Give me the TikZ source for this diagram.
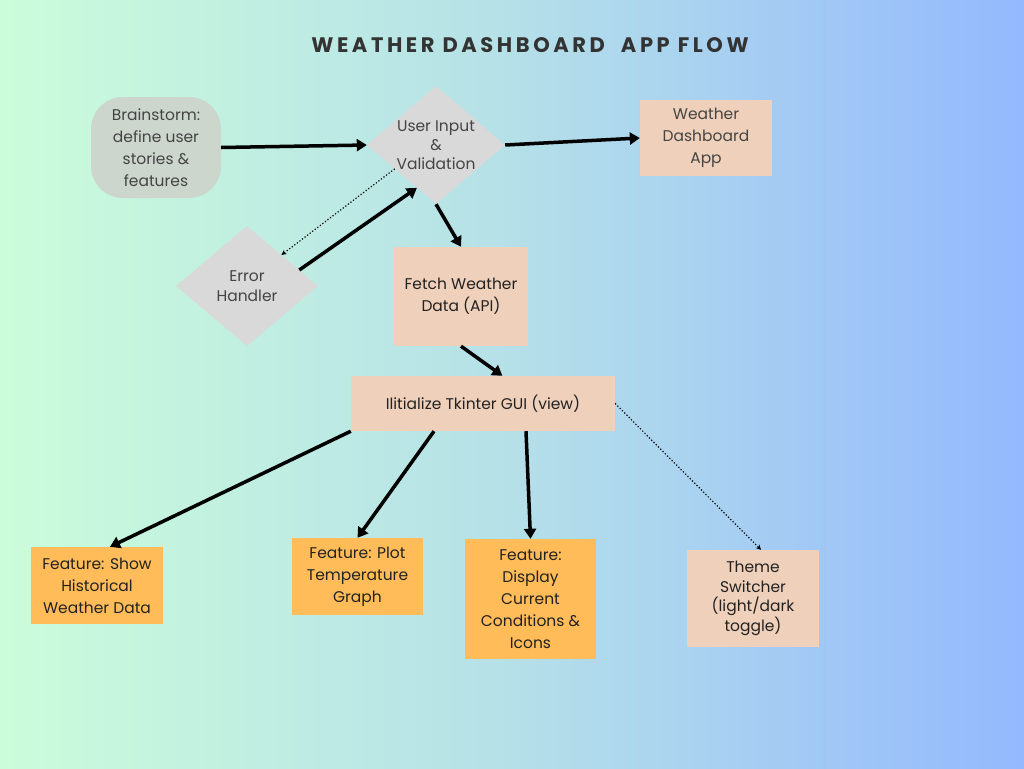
\documentclass[tikz,border=0pt]{standalone}
\usepackage{fontspec}
\setmainfont{Poppins}
\newfontfamily\titlefont{Poppins}[LetterSpace=17]
\usetikzlibrary{shapes.geometric,arrows.meta}

\definecolor{bgleft}{HTML}{CBFDDB}
\definecolor{bgmid}{HTML}{B5E0E8}
\definecolor{bgright}{HTML}{94B9FE}
\definecolor{brainfill}{HTML}{CCD6CC}
\definecolor{diamfill}{HTML}{D9D9D9}
\definecolor{peachfill}{HTML}{EFD0BA}
\definecolor{featfill}{HTML}{FFBC59}
\definecolor{textgray}{HTML}{444444}
\definecolor{textdark}{HTML}{222222}

\begin{document}
\begin{tikzpicture}[x=1pt,y=-1pt,
    txt/.style={font=\fontsize{15.5}{22}\selectfont, text=textgray, align=center},
    box/.style={rectangle, txt, inner sep=0pt},
    peach/.style={box, fill=peachfill},
    feat/.style={box, fill=featfill, text=textdark},
    diam/.style={diamond, fill=diamfill, inner sep=0pt},
    arr/.style={line width=3.5pt, -{Triangle[length=10pt,width=12pt]}},
    dotarr/.style={line width=1.2pt, dotted, -{Stealth[length=5pt,width=5pt]}}]

      \shade[left color=bgleft, right color=bgright, middle color=bgmid] (0,0) rectangle (1024,768);
      \useasboundingbox (0,0) rectangle (1024,768);

      \node[text=textgray!75!black, font=\titlefont\bfseries\fontsize{21}{24}\selectfont] (title) at (530,45) {WEATHER DASHBOARD\ \ APP FLOW};

      \node[box, fill=brainfill, rounded corners=32pt, minimum width=130pt, minimum height=101pt] (brain) at (156,147.5) {Brainstorm:\\define user\\stories \&\\features};
      \node[diam, minimum width=138pt, minimum height=118pt,
            label={[txt, font=\fontsize{15.5}{19}\selectfont]center:User Input\\\&\\Validation}] (input) at (436,145) {};
      \node[peach, minimum width=132pt, minimum height=76pt] (app) at (706,138) {Weather\\Dashboard\\App};
      \node[diam, minimum width=142pt, minimum height=120pt,
            label={[txt, font=\fontsize{15.5}{20}\selectfont]center:Error\\Handler}] (err) at (247,286) {};
      \node[peach, text=textdark, minimum width=134pt, minimum height=99pt] (fetch) at (461,296.5) {Fetch Weather\\Data (API)};
      \node[peach, text=textdark, minimum width=264pt, minimum height=55pt] (gui) at (483,403.5) {Ilitialize Tkinter GUI (view)};

      \node[feat, minimum width=132pt, minimum height=77pt] (show) at (97,585.5) {Feature: Show\\Historical\\Weather Data};
      \node[feat, minimum width=131pt, minimum height=77pt] (plot) at (357.5,576.5) {Feature: Plot\\Temperature\\Graph};
      \node[feat, minimum width=131pt, minimum height=120pt] (disp) at (530.5,599) {Feature:\\Display\\Current\\Conditions \&\\Icons};
      \node[peach, text=textdark, font=\fontsize{15.5}{19.5}\selectfont, minimum width=132pt, minimum height=97pt] (theme) at (753,598.5) {Theme\\Switcher\\(light/dark\\toggle)};

      \draw[arr] (brain.east) -- (input.west);
      \draw[arr] (input.east) -- (app.west);
      \draw[arr] (input.south) -- (fetch.north);
      \draw[arr] (err.17) -- (input.246);
      \draw[dotarr] (input.210) -- (err.42);
      \draw[arr] (fetch.south) -- (gui.55);

      \draw[arr] (gui.south west) -- ([xshift=13pt]show.north);
      \draw[arr] ([xshift=-49pt]gui.south) -- (plot.north);
      \draw[arr] ([xshift=43pt]gui.south) -- (disp.north);
      \draw[dotarr] (gui.east) -- ([xshift=8pt]theme.north);
\end{tikzpicture}
\end{document}
